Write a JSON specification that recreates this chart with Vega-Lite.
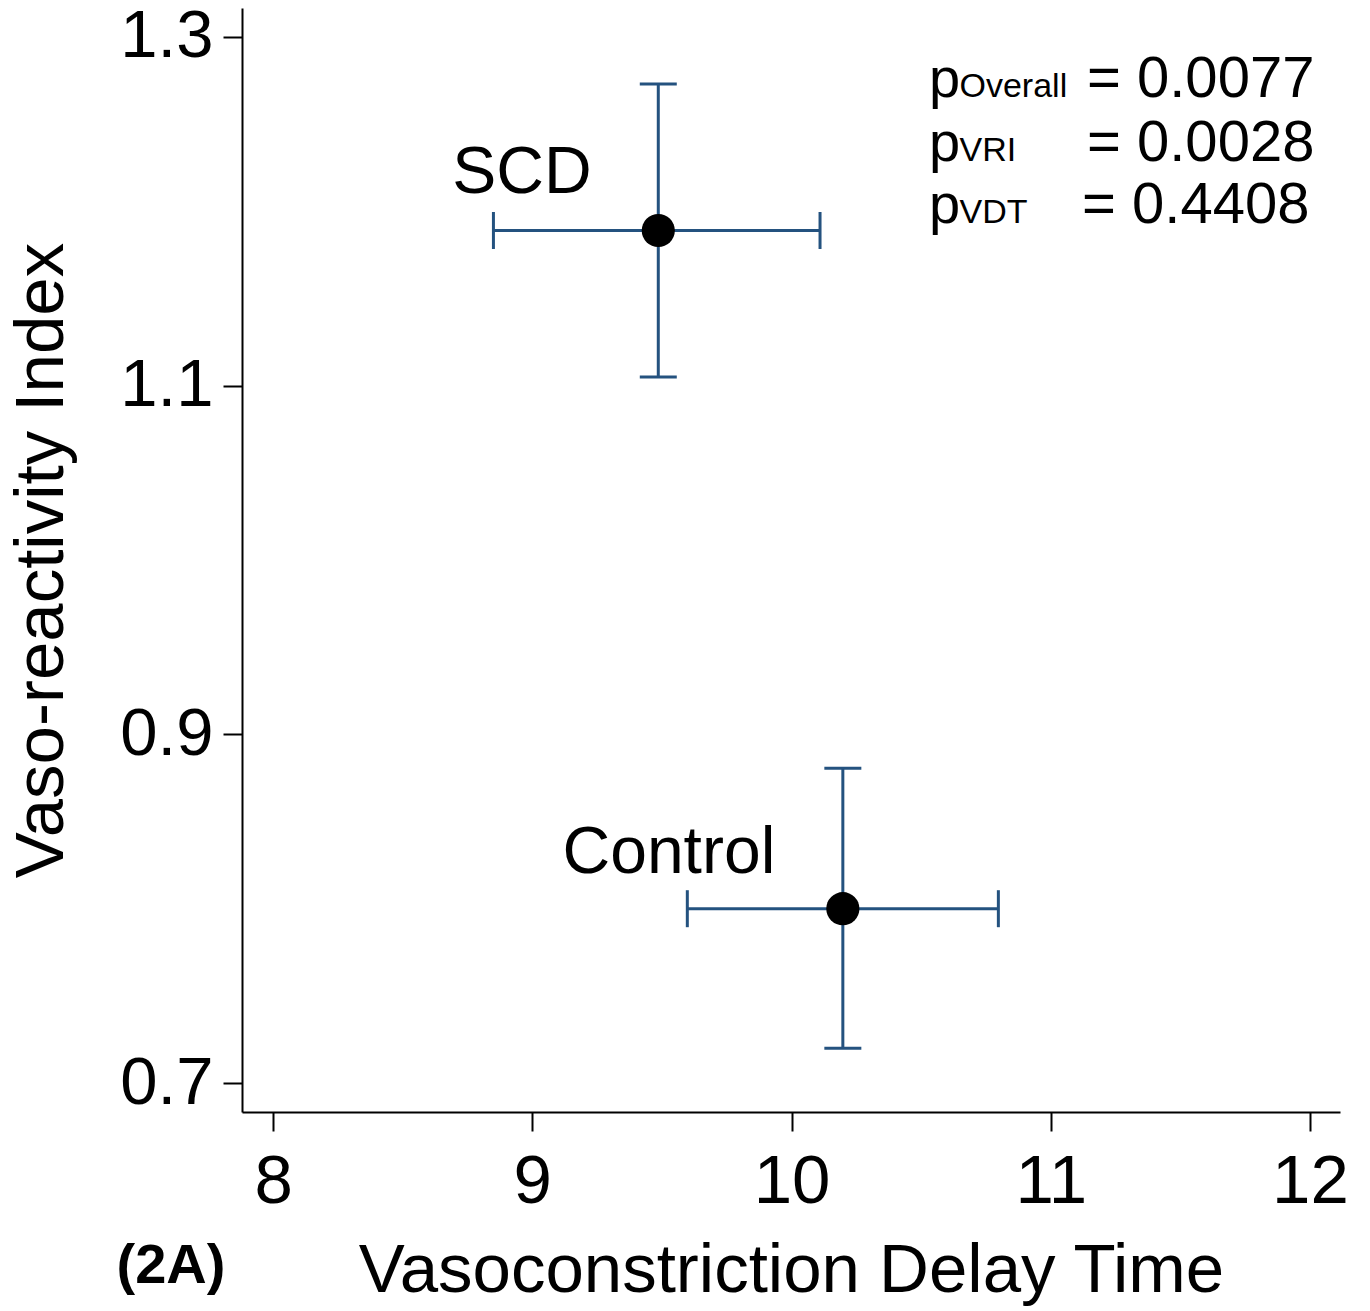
{
  "$schema": "https://vega.github.io/schema/vega-lite/v6.json",
  "autosize": "none",
  "width": 1098,
  "height": 1104,
  "padding": {"left": 242, "top": 8, "right": 30, "bottom": 199},
  "background": "white",
  "datasets": {
    "groups": [
      {"group": "SCD", "vdt": 9.486, "vri": 1.189, "vdt_lo": 8.85, "vdt_hi": 10.11, "vri_lo": 1.105, "vri_hi": 1.273},
      {"group": "Control", "vdt": 10.198, "vri": 0.800, "vdt_lo": 9.598, "vdt_hi": 10.798, "vri_lo": 0.72, "vri_hi": 0.8805}
    ],
    "labels": [
      {"text": "SCD", "x": 8.96, "y": 1.2105},
      {"text": "Control", "x": 9.527, "y": 0.8205}
    ],
    "pvals": [
      {"p": "p", "sub": "Overall", "val": "= 0.0077", "xp": 10.53, "xs": 10.648, "xv": 11.14, "y": 1.2656},
      {"p": "p", "sub": "VRI", "val": "= 0.0028", "xp": 10.53, "xs": 10.648, "xv": 11.14, "y": 1.2289},
      {"p": "p", "sub": "VDT", "val": "= 0.4408", "xp": 10.53, "xs": 10.648, "xv": 11.121, "y": 1.1933}
    ],
    "panel": [
      {"text": "(2A)", "x": 7.606, "y": 0.5853}
    ]
  },
  "config": {
    "view": {"stroke": null},
    "font": "Liberation Sans",
    "axis": {
      "grid": false,
      "domainColor": "black",
      "domainWidth": 2,
      "tickColor": "black",
      "tickWidth": 2,
      "tickSize": 19,
      "labelColor": "black",
      "labelFont": "Liberation Sans",
      "titleFont": "Liberation Sans",
      "titleColor": "black",
      "titleFontWeight": "normal"
    }
  },
  "layer": [
    {
      "data": {"name": "groups"},
      "mark": {"type": "rule", "color": "#24527f", "strokeWidth": 3},
      "encoding": {
        "x": {"field": "vdt_lo", "type": "quantitative",
          "scale": {"domain": [7.88, 12.116], "nice": false, "zero": false},
          "axis": {"values": [8, 9, 10, 11, 12], "format": "d", "labelFontSize": 69, "labelPadding": 16,
            "title": "Vasoconstriction Delay Time", "titleFontSize": 69, "titlePadding": 20}},
        "x2": {"field": "vdt_hi"},
        "y": {"field": "vri", "type": "quantitative",
          "scale": {"domain": [0.6834, 1.3166], "nice": false, "zero": false},
          "axis": {"values": [0.7, 0.9, 1.1, 1.3], "format": ".1f", "labelFontSize": 67, "labelPadding": 10,
            "title": "Vaso-reactivity Index", "titleFontSize": 69, "titlePadding": 43}}
      }
    },
    {
      "data": {"name": "groups"},
      "mark": {"type": "rule", "color": "#24527f", "strokeWidth": 3},
      "encoding": {
        "x": {"field": "vdt", "type": "quantitative"},
        "y": {"field": "vri_lo", "type": "quantitative"},
        "y2": {"field": "vri_hi"}
      }
    },
    {
      "data": {"name": "groups"},
      "transform": [{"fold": ["vdt_lo", "vdt_hi"], "as": ["end", "xcap"]}],
      "mark": {"type": "tick", "orient": "vertical", "color": "#24527f", "thickness": 3, "size": 37, "opacity": 1},
      "encoding": {
        "x": {"field": "xcap", "type": "quantitative"},
        "y": {"field": "vri", "type": "quantitative"}
      }
    },
    {
      "data": {"name": "groups"},
      "transform": [{"fold": ["vri_lo", "vri_hi"], "as": ["end", "ycap"]}],
      "mark": {"type": "tick", "orient": "horizontal", "color": "#24527f", "thickness": 3, "size": 37, "opacity": 1},
      "encoding": {
        "x": {"field": "vdt", "type": "quantitative"},
        "y": {"field": "ycap", "type": "quantitative"}
      }
    },
    {
      "data": {"name": "groups"},
      "mark": {"type": "circle", "color": "black", "size": 1100, "opacity": 1},
      "encoding": {
        "x": {"field": "vdt", "type": "quantitative"},
        "y": {"field": "vri", "type": "quantitative"}
      }
    },
    {
      "data": {"name": "labels"},
      "mark": {"type": "text", "fontSize": 66, "color": "black", "align": "center", "baseline": "alphabetic"},
      "encoding": {
        "x": {"field": "x", "type": "quantitative"},
        "y": {"field": "y", "type": "quantitative"},
        "text": {"field": "text"}
      }
    },
    {
      "data": {"name": "pvals"},
      "mark": {"type": "text", "fontSize": 56, "color": "black", "align": "left", "baseline": "alphabetic"},
      "encoding": {
        "x": {"field": "xp", "type": "quantitative"},
        "y": {"field": "y", "type": "quantitative"},
        "text": {"field": "p"}
      }
    },
    {
      "data": {"name": "pvals"},
      "mark": {"type": "text", "fontSize": 34, "color": "black", "align": "left", "baseline": "alphabetic"},
      "encoding": {
        "x": {"field": "xs", "type": "quantitative"},
        "y": {"field": "y", "type": "quantitative"},
        "text": {"field": "sub"}
      }
    },
    {
      "data": {"name": "pvals"},
      "mark": {"type": "text", "fontSize": 58, "color": "black", "align": "left", "baseline": "alphabetic"},
      "encoding": {
        "x": {"field": "xv", "type": "quantitative"},
        "y": {"field": "y", "type": "quantitative"},
        "text": {"field": "val"}
      }
    },
    {
      "data": {"name": "panel"},
      "mark": {"type": "text", "fontSize": 56, "fontWeight": "bold", "color": "black", "align": "center", "baseline": "alphabetic"},
      "encoding": {
        "x": {"field": "x", "type": "quantitative"},
        "y": {"field": "y", "type": "quantitative"},
        "text": {"field": "text"}
      }
    }
  ]
}
